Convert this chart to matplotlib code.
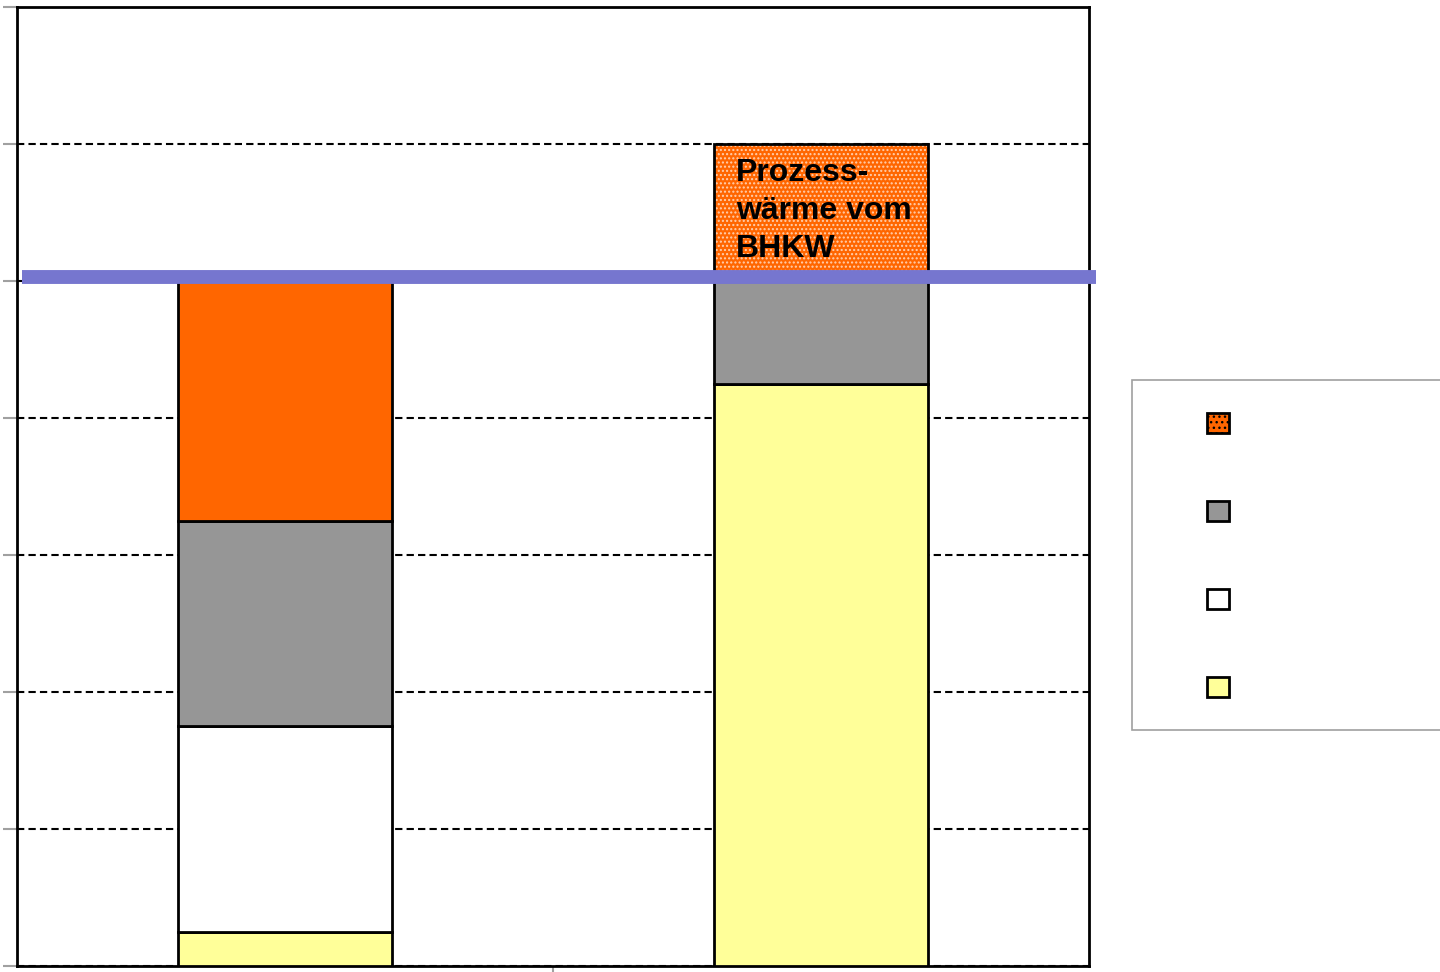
import matplotlib.pyplot as plt
from matplotlib.patches import Patch, Rectangle

positionen = [0, 1]
gelb = [0.25, 4.25]
weiss = [1.5, 0.0]
grau = [1.5, 0.75]
orange = [1.75, 0.0]
prozesswaerme = [0.0, 1.0]
linie_wert = 5.03

plt.rcParams['font.family'] = ['Liberation Sans', 'DejaVu Sans']

fig = plt.figure(figsize=(14.4, 9.72), dpi=100)
ax = fig.add_axes([17 / 1440, 1 - 966 / 972, 1072 / 1440, 959 / 972])

breite = 0.40
kante = dict(edgecolor='black', linewidth=2, zorder=3)

unten = [0, 0]
ax.bar(positionen, gelb, breite, bottom=unten, color='#FFFF99', **kante)
unten = [u + v for u, v in zip(unten, gelb)]
ax.bar(positionen, weiss, breite, bottom=unten, color='white', **kante)
unten = [u + v for u, v in zip(unten, weiss)]
ax.bar(positionen, grau, breite, bottom=unten, color='#969696', **kante)
unten = [u + v for u, v in zip(unten, grau)]
ax.bar(positionen, orange, breite, bottom=unten, color='#FF6600', **kante)
unten = [u + v for u, v in zip(unten, orange)]

# gepunktete Prozesswaerme: Fuellung mit weissen Punkten, dann schwarzer Rand
ax.bar(positionen, prozesswaerme, breite, bottom=unten, color='#FF6600',
       hatch='....', edgecolor='#FFD0B0', linewidth=0, zorder=3)
ax.bar(positionen, prozesswaerme, breite, bottom=unten, fill=False,
       edgecolor='black', linewidth=2, zorder=3)

ax.text(1 - breite / 2 + 0.041, unten[1] + prozesswaerme[1] - 0.105,
        'Prozess-\nwärme vom\nBHKW', fontsize=23, fontweight='bold',
        va='top', ha='left', linespacing=1.33, zorder=4)

ax.axhline(linie_wert, xmin=0.005, xmax=1.0065, color='#7676CF', linewidth=10,
           clip_on=False, zorder=5, solid_capstyle='butt')

ax.set_xlim(-0.5, 1.5)
ax.set_ylim(0, 7)
ax.set_yticks(range(0, 8))
ax.set_yticklabels([])
ax.set_xticks([0.5])
ax.set_xticklabels([])
ax.tick_params(axis='both', direction='out', color='#A0A0A0', length=10, width=1.5)
ax.yaxis.grid(True, linestyle=(0, (3.5, 2)), color='black', linewidth=1.5)
ax.set_axisbelow(True)
for s in ax.spines.values():
    s.set_linewidth(2)
    s.set_color('black')

# Legende (Texte im Original nicht sichtbar)
fig.patches.append(Rectangle((1132 / 1440, 1 - 730 / 972), 320 / 1440, 350 / 972,
                             transform=fig.transFigure, facecolor='white',
                             edgecolor='#A0A0A0', linewidth=1.2))
griffe = [
    Patch(facecolor='#FF6600', hatch='...', edgecolor='black', linewidth=2),
    Patch(facecolor='#969696', edgecolor='black', linewidth=2),
    Patch(facecolor='white', edgecolor='black', linewidth=2),
    Patch(facecolor='#FFFF99', edgecolor='black', linewidth=2),
]
fig.legend(griffe, ['', '', '', ''], loc='upper left',
           bbox_to_anchor=(1207 / 1440, 1 - 413 / 972), borderaxespad=0,
           borderpad=0, frameon=False, fontsize=16, handlelength=1.0,
           handleheight=1.0, labelspacing=2.95, handletextpad=0)

fig.savefig('out.png', dpi=100)
